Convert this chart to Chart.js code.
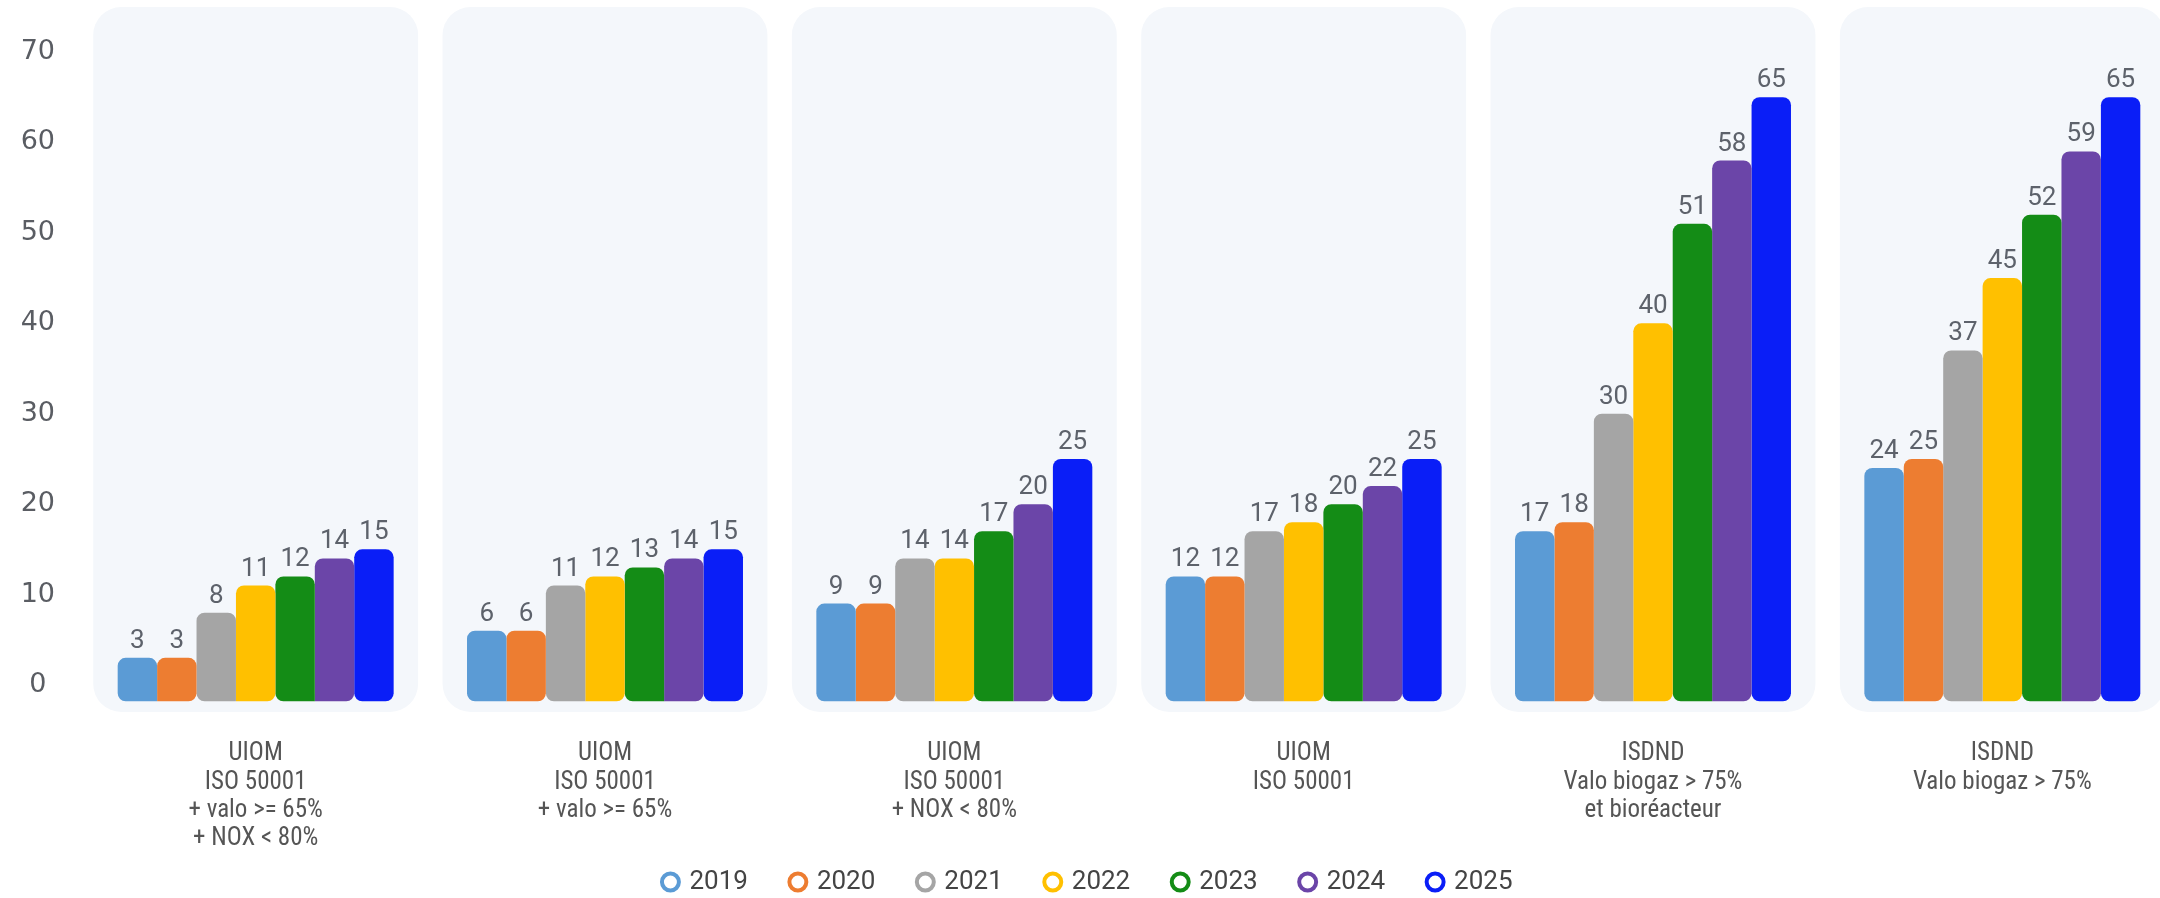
<!DOCTYPE html>
<html lang="fr">
<head>
<meta charset="utf-8">
<title>Chart</title>
<script src="https://cdn.jsdelivr.net/npm/chart.js@4.4.1/dist/chart.umd.min.js"></script>
<style>
  html, body { margin: 0; padding: 0; background: #fff; overflow: hidden; }
  #wrap { position: absolute; left: 0; top: 0; width: 2177px; height: 905px; }
</style>
</head>
<body>
<div id="wrap"><canvas id="chart"></canvas></div>
<script>
// categories (multi-line labels)
const categories = [
  ['UIOM', 'ISO 50001', '+ valo >= 65%', '+ NOX < 80%'],
  ['UIOM', 'ISO 50001', '+ valo >= 65%'],
  ['UIOM', 'ISO 50001', '+ NOX < 80%'],
  ['UIOM', 'ISO 50001'],
  ['ISDND', 'Valo biogaz > 75%', 'et bioréacteur'],
  ['ISDND', 'Valo biogaz > 75%']
];

const years = ['2019', '2020', '2021', '2022', '2023', '2024', '2025'];

const values2019 = [3, 6, 9, 12, 17, 24];
const values2020 = [3, 6, 9, 12, 18, 25];
const values2021 = [8, 11, 14, 17, 30, 37];
const values2022 = [11, 12, 14, 18, 40, 45];
const values2023 = [12, 13, 17, 20, 51, 52];
const values2024 = [14, 14, 20, 22, 58, 59];
const values2025 = [15, 15, 25, 25, 65, 65];

const yTicks = [0, 10, 20, 30, 40, 50, 60, 70];

const colors = ['#5b9bd5', '#ed7d31', '#a5a5a5', '#ffc000', '#148c16', '#6b45a8', '#0a1ef7'];

const series = [values2019, values2020, values2021, values2022, values2023, values2024, values2025];

// bottom corners are paired two by two, like the original
const r = 8;
function radiusFor(i) {
  if (i === 6) return { topLeft: r, topRight: r, bottomLeft: r, bottomRight: r };
  if (i % 2 === 0) return { topLeft: r, topRight: r, bottomLeft: r, bottomRight: 0 };
  return { topLeft: r, topRight: r, bottomLeft: 0, bottomRight: r };
}

const datasets = series.map((data, i) => ({
  label: years[i],
  data: data,
  backgroundColor: colors[i],
  borderColor: colors[i],
  borderWidth: 0,
  borderSkipped: false,
  borderRadius: radiusFor(i),
  base: -1.8,
  clip: false,
  barPercentage: 1,
  categoryPercentage: 0.79
}));

// light rounded panel behind each group
const panels = {
  id: 'panels',
  beforeDraw(chart) {
    const { ctx, chartArea, scales: { x } } = chart;
    const step = x.width / categories.length;
    const w = step * 0.93;
    ctx.save();
    ctx.fillStyle = '#f4f7fb';
    categories.forEach((c, i) => {
      const cx = x.getPixelForValue(i);
      ctx.beginPath();
      ctx.roundRect(cx - w / 2, chartArea.top - 45, w, chartArea.height + 72, 28);
      ctx.fill();
    });
    ctx.restore();
  }
};

// value on top of each bar
const valueLabels = {
  id: 'valueLabels',
  afterDatasetsDraw(chart) {
    const { ctx } = chart;
    ctx.save();
    ctx.font = '26px Roboto';
    ctx.fillStyle = '#5d626b';
    ctx.textAlign = 'center';
    ctx.textBaseline = 'alphabetic';
    chart.data.datasets.forEach((ds, i) => {
      chart.getDatasetMeta(i).data.forEach((bar, j) => {
        ctx.fillText(ds.data[j], bar.x, bar.y - 10);
      });
    });
    ctx.restore();
  }
};

new Chart(document.getElementById('chart'), {
  type: 'bar',
  data: { labels: categories, datasets: datasets },
  plugins: [panels, valueLabels],
  options: {
    responsive: true,
    maintainAspectRatio: false,
    animation: false,
    layout: { padding: { top: 52, left: 0, right: 0, bottom: 0 } },
    scales: {
      x: {
        grid: { display: false, drawTicks: false },
        border: { display: false },
        ticks: {
          padding: 55,
          maxRotation: 0,
          autoSkip: false,
          color: '#555',
          font: { family: "'Roboto Condensed', 'Liberation Sans Narrow', 'DejaVu Sans Condensed', Roboto", size: 25, lineHeight: 1.13 }
        },
        afterFit(scale) {
          scale.height = 140;
          // let the 4-line label run below the axis box
          scale._computeLabelArea = () => null;
        }
      },
      y: {
        min: 0,
        max: 70,
        grid: { display: false, drawTicks: false },
        border: { display: false },
        afterBuildTicks(scale) { scale.ticks = yTicks.map(v => ({ value: v })); },
        ticks: {
          stepSize: 10,
          crossAlign: 'center',
          padding: 26,
          color: '#5a5d63',
          font: { family: "'DejaVu Sans'", size: 27 }
        },
        afterFit(scale) { scale.width = 81; }
      }
    },
    plugins: {
      tooltip: { enabled: false },
      legend: {
        position: 'bottom',
        labels: {
          usePointStyle: true,
          pointStyle: 'circle',
          boxWidth: 12,
          boxHeight: 12,
          padding: 44,
          color: '#444',
          font: { family: 'Roboto', size: 26 },
          generateLabels(chart) {
            return chart.data.datasets.map((ds, i) => ({
              text: ds.label,
              fillStyle: '#ffffff',
              strokeStyle: colors[i],
              lineWidth: 4,
              pointStyle: 'circle',
              fontColor: '#444',
              hidden: false,
              datasetIndex: i
            }));
          }
        }
      }
    }
  }
});
</script>
</body>
</html>
